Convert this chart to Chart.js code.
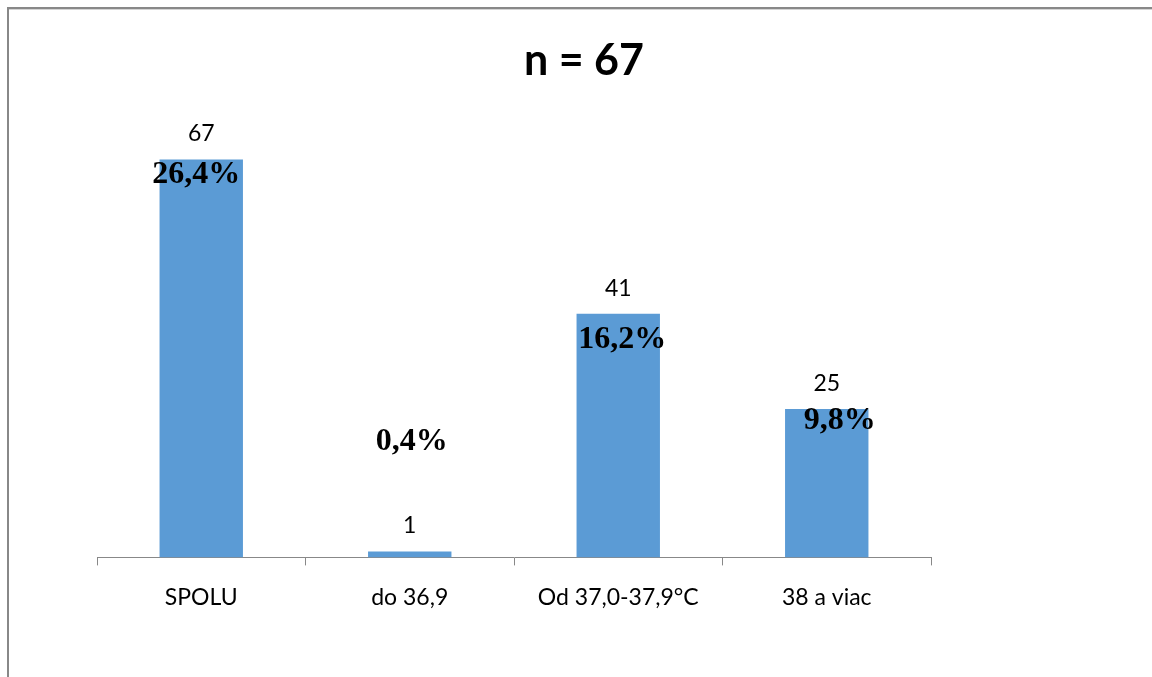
<!DOCTYPE html>
<html>
<head>
<meta charset="utf-8">
<script src="https://cdn.jsdelivr.net/npm/chart.js@4.4.1/dist/chart.umd.min.js"></script>
<style>
  html, body { margin: 0; padding: 0; background: #fff; }
  #wrap { position: relative; width: 1152px; height: 677px; overflow: hidden; }
  #frame { position: absolute; left: 7px; top: 7px; width: 1300px; height: 800px;
           border-left: 2px solid #888; border-top: 2px solid #888; }
  #frame::after { content: ""; position: absolute; left: 0; top: 0; right: 0; height: 1px; background: #d4d4d4; }
  canvas { position: absolute; left: 0; top: 0; }
</style>
</head>
<body>
<div id="wrap">
  <div id="frame"></div>
  <canvas id="chart" width="1152" height="677"></canvas>
</div>
<script>
// Body temperature groups, counts and their share of all patients
const categories = ['SPOLU', 'do 36,9', 'Od 37,0-37,9°C', '38 a viac'];
const counts = [67, 1, 41, 25];
const shares = ['26,4%', '0,4%', '16,2%', '9,8%'];
const chartTitle = 'n = 67';

// Where each share label sits relative to the top of its bar (dx, baseline dy)
const shareOffsets = [[-5, 24], [2, -101], [4, 34], [13, 20]];

// Heading, placed a little right of the plot centre
const titlePlugin = {
  id: 'heading',
  afterDraw(chart) {
    const ctx = chart.ctx;
    ctx.save();
    ctx.fillStyle = '#000';
    ctx.font = 'bold 43px Lato';
    ctx.textAlign = 'center';
    ctx.textBaseline = 'alphabetic';
    ctx.fillText(chartTitle, 584, 75);
    ctx.restore();
  }
};

const barLabels = {
  id: 'barLabels',
  afterDatasetsDraw(chart) {
    const ctx = chart.ctx;
    const meta = chart.getDatasetMeta(0);
    ctx.save();
    ctx.textAlign = 'center';
    ctx.textBaseline = 'alphabetic';
    meta.data.forEach((bar, i) => {
      ctx.fillStyle = '#000';
      ctx.font = '23px Lato';
      ctx.fillText(String(counts[i]), bar.x, bar.y - 18);
      ctx.font = 'bold 32px "Liberation Serif"';
      const [dx, dy] = shareOffsets[i];
      ctx.fillText(shares[i], bar.x + dx, bar.y + dy);
    });
    ctx.restore();
  }
};

new Chart(document.getElementById('chart'), {
  type: 'bar',
  data: {
    labels: categories,
    datasets: [{
      data: counts,
      backgroundColor: '#5B9BD5',
      barPercentage: 0.4,
      categoryPercentage: 1.0
    }]
  },
  options: {
    responsive: false,
    animation: false,
    events: [],
    layout: { padding: { left: 97, right: 221, top: 141.6, bottom: 48 } },
    plugins: {
      legend: { display: false },
      tooltip: { enabled: false },
      title: { display: false }
    },
    scales: {
      y: { display: false, min: 0, max: 70 },
      x: {
        grid: { display: true, drawOnChartArea: false, drawTicks: true, tickLength: 8, color: '#888', offset: true },
        border: { display: true, color: '#888', width: 1 },
        ticks: { color: '#000', font: { family: 'Lato', size: 23 }, padding: 18 }
      }
    }
  },
  plugins: [barLabels, titlePlugin]
});
</script>
</body>
</html>
